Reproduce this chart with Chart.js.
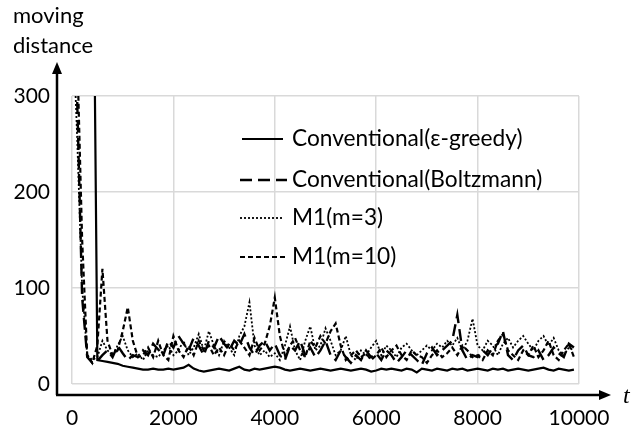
<!DOCTYPE html>
<html>
<head>
<meta charset="utf-8">
<script src="https://cdn.jsdelivr.net/npm/chart.js@4"></script>
<style>
  html, body { margin: 0; padding: 0; background: #fff; }
  #chart { display: block; }
</style>
</head>
<body>
<canvas id="chart" width="643" height="427"></canvas>
<script>
// time steps (x)
const steps = [
  0, 100, 200, 300, 400, 500, 600, 700, 800, 900,
  1000, 1100, 1200, 1300, 1400, 1500, 1600, 1700, 1800, 1900,
  2000, 2100, 2200, 2300, 2400, 2500, 2600, 2700, 2800, 2900,
  3000, 3100, 3200, 3300, 3400, 3500, 3600, 3700, 3800, 3900,
  4000, 4100, 4200, 4300, 4400, 4500, 4600, 4700, 4800, 4900,
  5000, 5100, 5200, 5300, 5400, 5500, 5600, 5700, 5800, 5900,
  6000, 6100, 6200, 6300, 6400, 6500, 6600, 6700, 6800, 6900,
  7000, 7100, 7200, 7300, 7400, 7500, 7600, 7700, 7800, 7900,
  8000, 8100, 8200, 8300, 8400, 8500, 8600, 8700, 8800, 8900,
  9000, 9100, 9200, 9300, 9400, 9500, 9600, 9700, 9800, 9900,
];

const greedyValues = [
  1000, 900, 800, 700, 600, 25, 24, 23, 22, 21,
  19, 18, 17, 16, 15, 15, 16, 15, 15, 16,
  15, 16, 17, 20, 16, 14, 13, 14, 15, 16,
  15, 14, 16, 18, 15, 14, 16, 15, 16, 17,
  18, 17, 15, 14, 15, 16, 15, 14, 15, 16,
  15, 14, 15, 16, 15, 14, 15, 16, 15, 13,
  14, 16, 15, 16, 15, 14, 16, 15, 12, 16,
  15, 14, 16, 15, 14, 16, 15, 16, 14, 15,
  16, 15, 14, 16, 15, 16, 14, 15, 16, 15,
  14, 15, 16, 17, 15, 14, 16, 15, 14, 15,
];

const boltzmannValues = [
  500, 300, 90, 28, 22, 24, 30, 35, 28, 40,
  32, 25, 30, 28, 35, 30, 42, 36, 30, 45,
  38, 50, 42, 35, 48, 40, 30, 45, 38, 50,
  42, 35, 45, 40, 52, 38, 30, 40, 45, 35,
  42, 30, 25, 40, 35, 45, 30, 38, 28, 35,
  45, 30, 25, 35, 28, 22, 30, 25, 35, 28,
  32, 25, 35, 30, 22, 28, 35, 30, 25, 20,
  32, 38, 30, 35, 40, 45, 72, 35, 25, 30,
  28, 35, 30, 38, 42, 55, 30, 25, 35, 40,
  30, 28, 35, 25, 30, 38, 32, 28, 42, 38,
];

const m3Values = [
  400, 260, 100, 30, 25, 28, 45, 35, 30, 40,
  50, 35, 28, 32, 25, 35, 30, 28, 35, 40,
  30, 35, 45, 30, 38, 52, 35, 55, 40, 30,
  45, 38, 30, 50, 60, 85, 40, 30, 35, 28,
  32, 25, 40, 60, 35, 25, 45, 60, 35, 40,
  58, 45, 30, 35, 50, 30, 25, 35, 30, 38,
  45, 30, 40, 35, 28, 38, 42, 35, 30, 35,
  40, 35, 42, 38, 45, 40, 48, 35, 45, 68,
  40, 35, 45, 40, 30, 42, 48, 38, 45, 50,
  42, 35, 45, 50, 40, 48, 35, 30, 38, 35,
];

const m10Values = [
  400, 350, 150, 30, 22, 40, 120, 45, 30, 35,
  55, 80, 45, 28, 30, 38, 28, 45, 30, 25,
  50, 35, 28, 40, 30, 45, 35, 40, 30, 38,
  30, 42, 35, 45, 38, 30, 48, 35, 42, 60,
  90, 50, 30, 40, 48, 35, 28, 45, 38, 50,
  42, 55, 63, 40, 25, 30, 35, 28, 32, 25,
  30, 38, 28, 35, 40, 30, 25, 35, 30, 28,
  22, 30, 35, 28, 32, 38, 30, 40, 35, 28,
  30, 25, 35, 30, 45, 52, 35, 30, 25, 35,
  30, 40, 28, 35, 45, 30, 25, 35, 42, 28,
];

const seriesLabels = [
  "Conventional(\u03b5-greedy)",
  "Conventional(Boltzmann)",
  "M1(m=3)",
  "M1(m=10)",
];
const xTicks = [0, 2000, 4000, 6000, 8000, 10000];
const yTicks = [0, 100, 200, 300];
const yTitle = ["moving", "distance"];
const xTitle = "t";

const FONT = "Lato, 'Liberation Sans', sans-serif";

function toPoints(values) {
  return steps.map((t, i) => ({ x: t, y: values[i] }));
}

const styles = [
  { width: 2.2, dash: [] },
  { width: 2.4, dash: [12, 6] },
  { width: 1.8, dash: [2, 2] },
  { width: 2.2, dash: [5, 3] },
];

const allValues = [greedyValues, boltzmannValues, m3Values, m10Values];

const datasets = allValues.map((vals, i) => ({
  label: seriesLabels[i],
  data: toPoints(vals),
  borderColor: "#000",
  backgroundColor: "#000",
  borderWidth: styles[i].width,
  borderDash: styles[i].dash,
  pointRadius: 0,
  tension: 0,
  fill: false,
}));

// legend, axis arrows and titles drawn by hand
const decorations = {
  id: "decorations",
  afterDraw(chart) {
    const ctx = chart.ctx;
    ctx.save();

    // legend
    const rows = [139, 180, 218, 257];
    const segs = [[242, 283], [240, 287], [240, 282], [240, 285]];
    ctx.font = "20px " + FONT;
    const target = 250;
    const w = ctx.measureText(seriesLabels[1]).width;
    const size = 20 * target / w;
    rows.forEach((y, i) => {
      ctx.strokeStyle = "#000";
      ctx.lineWidth = styles[i].width;
      ctx.setLineDash(styles[i].dash);
      ctx.beginPath();
      ctx.moveTo(segs[i][0], y);
      ctx.lineTo(segs[i][1], y);
      ctx.stroke();
      ctx.setLineDash([]);
      ctx.fillStyle = "#000";
      ctx.font = size.toFixed(1) + "px " + FONT;
      ctx.textBaseline = "middle";
      ctx.textAlign = "left";
      ctx.fillText(seriesLabels[i], 292, y);
    });

    // axes with arrows
    const ox = 57, oy = 395;
    ctx.strokeStyle = "#000";
    ctx.fillStyle = "#000";
    ctx.lineWidth = 2.5;
    ctx.beginPath();
    ctx.moveTo(ox, oy);
    ctx.lineTo(ox, 72);
    ctx.moveTo(ox - 1, oy);
    ctx.lineTo(601, oy);
    ctx.stroke();
    ctx.beginPath();
    ctx.moveTo(ox, 62);
    ctx.lineTo(ox - 5, 74);
    ctx.lineTo(ox + 5, 74);
    ctx.closePath();
    ctx.fill();
    ctx.beginPath();
    ctx.moveTo(611, oy);
    ctx.lineTo(599, oy - 5);
    ctx.lineTo(599, oy + 5);
    ctx.closePath();
    ctx.fill();

    // titles
    ctx.font = "22px " + FONT;
    ctx.textAlign = "left";
    ctx.textBaseline = "middle";
    ctx.fillText(yTitle[0], 13, 16);
    ctx.fillText(yTitle[1], 13, 46);
    ctx.font = "italic 24px 'Liberation Serif', serif";
    ctx.fillText(xTitle, 623, 397);

    ctx.restore();
  },
};

new Chart(document.getElementById("chart"), {
  type: "line",
  data: { datasets },
  options: {
    responsive: false,
    animation: false,
    layout: { padding: { top: 96, right: 64, left: 0, bottom: 0 } },
    plugins: { legend: { display: false }, tooltip: { enabled: false } },
    scales: {
      x: {
        type: "linear",
        min: 0,
        max: 10000,
        afterBuildTicks: (axis) => { axis.ticks = xTicks.map((v) => ({ value: v })); },
        afterFit: (axis) => { axis.height = 43; },
        grid: { color: "#d9d9d9", lineWidth: 1.5, drawTicks: false },
        border: { display: false },
        ticks: {
          color: "#000",
          font: { family: FONT, size: 21 },
          padding: 22,
          maxRotation: 0,
          callback: (v) => String(v),
        },
      },
      y: {
        type: "linear",
        min: 0,
        max: 300,
        afterBuildTicks: (axis) => { axis.ticks = yTicks.map((v) => ({ value: v })); },
        afterFit: (axis) => { axis.width = 72; },
        grid: { color: "#d9d9d9", lineWidth: 1.5, drawTicks: false },
        border: { display: false },
        ticks: {
          color: "#000",
          font: { family: FONT, size: 21 },
          padding: 22,
          callback: (v) => String(v),
        },
      },
    },
  },
  plugins: [decorations],
});
</script>
</body>
</html>
